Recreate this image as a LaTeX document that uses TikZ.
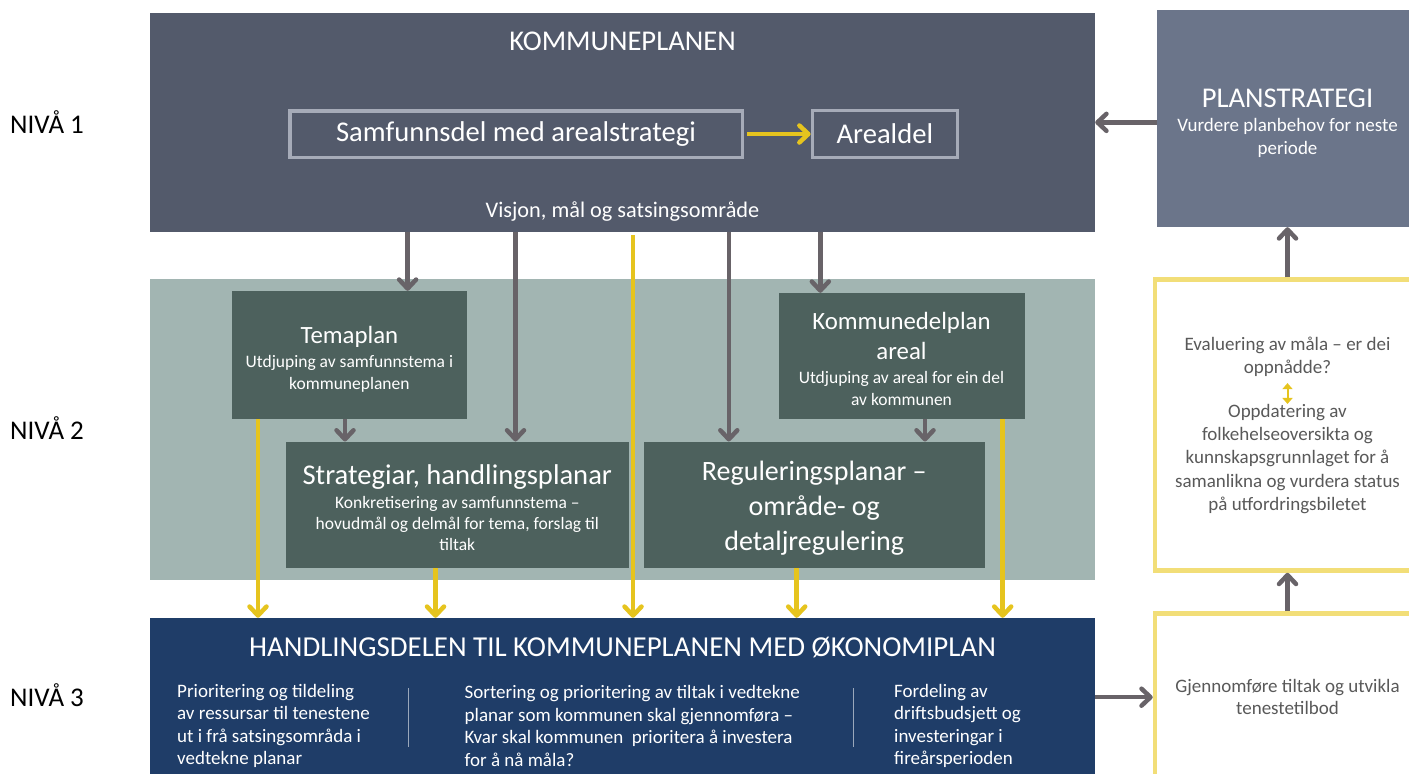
\documentclass[tikz,border=0pt]{standalone}
\usepackage{tikz}
\usepackage{xcolor}
\usepackage{fontspec}
\setmainfont{Carlito}
\definecolor{kpgraa}{RGB}{83, 90, 107}
\definecolor{kantgraa}{RGB}{166, 171, 184}
\definecolor{stratgraa}{RGB}{107, 117, 138}
\definecolor{baandgroenn}{RGB}{162, 181, 178}
\definecolor{temagroenn}{RGB}{77, 97, 93}
\definecolor{handlingblaa}{RGB}{31, 61, 104}
\definecolor{pilgul}{RGB}{230, 196, 30}
\definecolor{kantgul}{RGB}{242, 222, 120}
\definecolor{pilgraa}{RGB}{104, 99, 104}
\definecolor{tekstgraa}{RGB}{89, 89, 89}
\usetikzlibrary{arrows.meta,positioning}

\newcommand{\storskrift}{\fontsize{28.6}{35}\selectfont}
\newcommand{\midskrift}{\fontsize{24.8}{30}\selectfont}
\newcommand{\smaaskrift}{\fontsize{17.5}{22}\selectfont}
\newcommand{\brodskrift}{\fontsize{19}{23}\selectfont}

\begin{document}
\begin{tikzpicture}[x=1pt, y=-1pt,
    flate/.style={rectangle, inner sep=0pt},
    temaboks/.style={rectangle, fill=temagroenn, inner sep=0pt},
    tematekst/.style={text=white, align=center, inner sep=0pt},
    delboks/.style={rectangle, draw=kantgraa, line width=3.5pt, text=white, font=\storskrift, inner sep=0pt},
    gulboks/.style={rectangle, draw=kantgul, line width=4.5pt, fill=white, inner sep=0pt},
    kvittekst/.style={text=white, inner sep=0pt},
    graatekst/.style={text=tekstgraa, align=center, font=\fontsize{19}{23.3}\selectfont, inner sep=0pt},
    kolonne/.style={text=white, align=left, font=\fontsize{19}{22.5}\selectfont, inner sep=0pt},
    nivaa/.style={text=black, font=\fontsize{27}{32}\selectfont, inner sep=0pt},
    graapil/.style={draw=pilgraa, line width=4.5pt, -{Straight Barb[length=9pt, width=17pt, round]}},
    gulpil/.style={draw=pilgul, line width=4.5pt, -{Straight Barb[length=9pt, width=17pt, round]}},
    smaapil/.style={draw=pilgul, line width=2pt, {Triangle[length=6pt, width=10pt]}-{Triangle[length=6pt, width=10pt]}},
    skiljelinje/.style={draw=white!55!handlingblaa, line width=1pt}]
    \useasboundingbox[fill=white] (0,0) rectangle (1409,774);

    % Nivå 1
    \node[nivaa, anchor=base west] (nivaa1) at (10,133) {NIVÅ 1};
    \node[flate, fill=kpgraa, minimum width=945pt, minimum height=219.3pt] (kommuneplanen) at (622.5,122.35) {};
    \node[kvittekst, font=\storskrift, anchor=base] (kp_tittel) at ([yshift=-38.3pt]kommuneplanen.north) {KOMMUNEPLANEN};
    \node[delboks, minimum width=452.5pt, minimum height=46.5pt] (samfunnsdel) at (516,134) {Samfunnsdel med arealstrategi};
    \node[delboks, minimum width=145pt, minimum height=47.2pt, right=66.6pt of samfunnsdel] (arealdel) {Arealdel};
    \node[kvittekst, font=\fontsize{22.3}{27}\selectfont, anchor=base] (visjon) at (622.5,217) {Visjon, mål og satsingsområde};
    \node[flate, fill=stratgraa, minimum width=261pt, minimum height=217pt] (planstrategi) at (1287.5,118.5) {};
    \node[tematekst, font=\brodskrift] (planstrategi_tekst) at ([yshift=-5pt]planstrategi.center) {{\storskrift PLANSTRATEGI}\\[1.4pt] Vurdere planbehov for neste\\periode};

    % Nivå 2
    \node[nivaa, anchor=base west] (nivaa2) at (10,439) {NIVÅ 2};
    \node[flate, fill=baandgroenn, minimum width=945pt, minimum height=301pt] (nivaa2band) at (622.5,429.5) {};
    \node[temaboks, minimum width=235.2pt, minimum height=128pt] (temaplan) at (349.4,355) {};
    \node[tematekst, font=\smaaskrift] (temaplan_tekst) at ([yshift=-4.5pt]temaplan.center) {{\midskrift Temaplan}\\[1.7pt] Utdjuping av samfunnstema i\\kommuneplanen};
    \node[temaboks, minimum width=246pt, minimum height=126pt] (kdp) at (901.5,356) {};
    \node[tematekst, font=\smaaskrift] (kdp_tekst) at ([yshift=-3pt]kdp.center) {{\midskrift Kommunedelplan}\\[8pt]{\midskrift areal}\\[1.7pt] Utdjuping av areal for ein del\\av kommunen};
    \node[temaboks, minimum width=343pt, minimum height=126.3pt] (strategiar) at (457.3,504.85) {};
    \node[tematekst, font=\fontsize{17.5}{21}\selectfont] (strategiar_tekst) at ([yshift=-2.5pt]strategiar.center) {{\storskrift Strategiar, handlingsplanar}\\[3pt] Konkretisering av samfunnstema –\\hovudmål og delmål for tema, forslag til\\tiltak};
    \node[temaboks, minimum width=340.5pt, minimum height=126.3pt] (regulering) at (814.25,504.85) {};
    \node[tematekst, font=\fontsize{28}{35}\selectfont] (regulering_tekst) at ([yshift=-3.5pt]regulering.center) {Reguleringsplanar –\\område- og\\detaljregulering};

    % Nivå 3
    \node[nivaa, anchor=base west] (nivaa3) at (10,706) {NIVÅ 3};
    \node[flate, fill=handlingblaa, minimum width=945pt, minimum height=172pt] (handlingsdel) at (622.5,704) {};
    \node[kvittekst, font=\fontsize{28.9}{34}\selectfont, anchor=base] (hd_tittel) at ([yshift=-38.8pt]handlingsdel.north) {HANDLINGSDELEN TIL KOMMUNEPLANEN MED ØKONOMIPLAN};
    \node[kolonne, anchor=west] (kolonne1) at (177,726) {Prioritering og tildeling\\av ressursar til tenestene\\ut i frå satsingsområda i\\vedtekne planar};
    \node[kolonne, anchor=west] (kolonne2) at (464.5,726) {Sortering og prioritering av tiltak i vedtekne\\planar som kommunen skal gjennomføra –\\Kvar skal kommunen\ \ prioritera å investera\\for å nå måla?};
    \node[kolonne, anchor=west] (kolonne3) at (894,726) {Fordeling av\\driftsbudsjett og\\investeringar i\\fireårsperioden};
    \draw[skiljelinje] (408,688) -- (408,747);
    \draw[skiljelinje] (853,688) -- (853,747);

    % Evaluering og gjennomføring
    \node[gulboks, minimum width=265pt, minimum height=291pt] (evaluering) at (1287.5,425) {};
    \node[graatekst] (eval_maal) at (1287.5,357) {Evaluering av måla – er dei\\oppnådde?};
    \node[graatekst] (eval_oppdatering) at (1287.5,459) {Oppdatering av\\folkehelseoversikta og\\kunnskapsgrunnlaget for å\\samanlikna og vurdera status\\på utfordringsbiletet};
    \node[gulboks, minimum width=265pt, minimum height=167.5pt, text=tekstgraa, align=center, font=\fontsize{19}{22.2}\selectfont] (gjennomfoere) at (1287.5,697.2) {Gjennomføre tiltak og utvikla\\tenestetilbod};

    % Piler
    \draw[gulpil, shorten <=3pt] (samfunnsdel.east) -- (samfunnsdel.east -| arealdel.west);
    \draw[graapil] (planstrategi.west |- kommuneplanen.east) -- (kommuneplanen.east);
    \draw[graapil] (407.6,0 |- kommuneplanen.south) -- (407.6,0 |- temaplan.north);
    \draw[graapil] (515.5,0 |- kommuneplanen.south) -- (515.5,0 |- strategiar.north);
    \draw[graapil] (728.8,0 |- kommuneplanen.south) -- (728.8,0 |- regulering.north);
    \draw[graapil] (820.3,0 |- kommuneplanen.south) -- (820.3,0 |- kdp.north);
    \draw[graapil] (345,0 |- temaplan.south) -- (345,0 |- strategiar.north);
    \draw[graapil] (925,0 |- kdp.south) -- (925,0 |- regulering.north);
    \draw[gulpil] (258,0 |- temaplan.south) -- (258,0 |- handlingsdel.north);
    \draw[gulpil] (435.5,0 |- strategiar.south) -- (435.5,0 |- handlingsdel.north);
    \draw[gulpil, shorten <=3pt] (633,0 |- kommuneplanen.south) -- (633,0 |- handlingsdel.north);
    \draw[gulpil] (796.7,0 |- regulering.south) -- (796.7,0 |- handlingsdel.north);
    \draw[gulpil] (1002.7,0 |- kdp.south) -- (1002.7,0 |- handlingsdel.north);
    \draw[graapil] (evaluering.north) -- (planstrategi.south);
    \draw[graapil] (gjennomfoere.north) -- (evaluering.south);
    \draw[graapil] (handlingsdel.east |- gjennomfoere.west) -- (gjennomfoere.west);
    \draw[smaapil, shorten <=6pt] (eval_maal) -- (eval_oppdatering);
\end{tikzpicture}
\end{document}
